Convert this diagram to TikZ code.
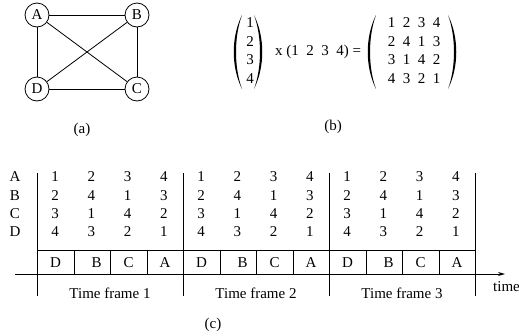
\documentclass[tikz,border=0pt]{standalone}
\usepackage{fontspec}
\setmainfont{Liberation Serif}
\usetikzlibrary{arrows.meta}
\begin{document}
\begin{tikzpicture}[x=1pt, y=-1pt,
  font=\fontsize{15}{18.5}\selectfont,
  vx/.style={circle, draw=black, line width=0.8pt, minimum size=24pt, inner sep=0pt},
  e/.style={black, line width=0.8pt},
  cell/.style={draw=black, line width=0.8pt, minimum width=36.5pt, minimum height=24pt, inner sep=0pt, anchor=north west},
  num/.style={inner sep=0pt},
  pics/lpar/.style={code={\fill (9,-37) .. controls (-2,-15) and (-2,15) .. (9,37) .. controls (1,15) and (1,-15) .. (9,-37);}},
  pics/rpar/.style={code={\fill (-9,-37) .. controls (2,-15) and (2,15) .. (-9,37) .. controls (-1,15) and (-1,-15) .. (-9,-37);}}]
\useasboundingbox (0,0) rectangle (519,335);
% (a) complete graph
\node[vx] (a) at (37,15) {A};
\node[vx] (b) at (137,15) {B};
\node[vx] (c) at (137,89) {C};
\node[vx] (d) at (37,89) {D};
\draw[e] (a) -- (b);
\draw[e] (b) -- (c);
\draw[e] (c) -- (d);
\draw[e] (d) -- (a);
\draw[e] (a) -- (c);
\draw[e] (b) -- (d);
\node (capa) at (82,130) {(a)};
% (b) product
\node[num] (vec) at (250,52) {\begin{tabular}{@{}c@{}}1\\2\\3\\4\end{tabular}};
\pic at (233,52) {lpar};
\pic at (263,52) {rpar};
\node (mul) at (318,52) {x (1\ \ 2\ \ 3\ \ 4) =};
\node[num] (mat) at (414,52) {\begin{tabular}{@{}c@{}}1\ \ 2\ \ 3\ \ 4\\2\ \ 4\ \ 1\ \ 3\\3\ \ 1\ \ 4\ \ 2\\4\ \ 3\ \ 2\ \ 1\end{tabular}};
\pic at (367,52) {lpar};
\pic at (457,52) {rpar};
\node (capb) at (333,127) {(b)};
% (c) schedule
\foreach \r [count=\i from 0] in {A,B,C,D}
  \node[num] (r\r) at (15,{177+18.3*\i}) {\r};
\foreach \f [count=\n] in {0,1,2} {
  \foreach \r/\vals [count=\i from 0] in {A/{1,2,3,4},B/{2,4,1,3},C/{3,1,4,2},D/{4,3,2,1}}
    \foreach \v [count=\j from 0] in \vals
      \node[num] (v\f\r\j) at ({37+146*\f+18+36.3*\j},{177+18.3*\i}) {\v};
  \foreach \s [count=\j from 0] in {D,\hspace{9pt}B,C,A}
    \node[cell] (s\f\j) at ({37+146*\f+36.5*\j},250) {\s};
  \node (tf\n) at ({37+146*\f+73},293) {Time frame \n};
}
\foreach \f in {0,1,2,3}
  \draw[e] ({37+146*\f},173) -- ({37+146*\f},296);
\coordinate (t0) at (15,274);
\coordinate (t1) at (505,274);
\draw[e, -{Stealth[length=7pt,width=4pt]}] (t0) -- (t1);
\node[num, anchor=west] (tm) at (493,287) {time};
\node (capc) at (213,325) {(c)};
\end{tikzpicture}
\end{document}
